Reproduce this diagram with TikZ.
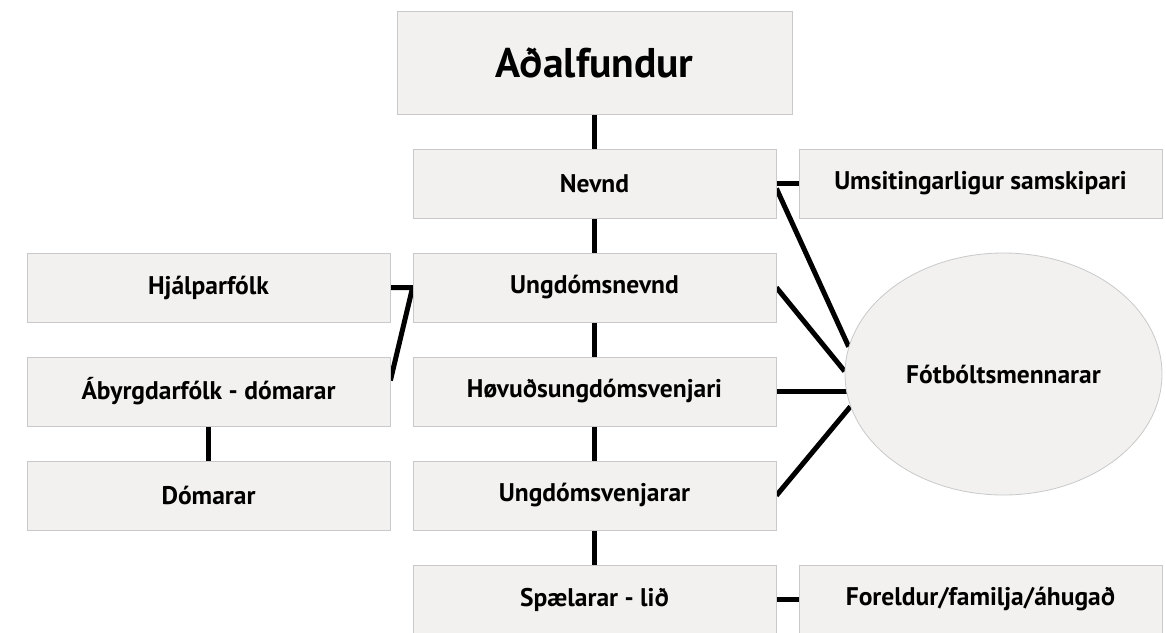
\documentclass[tikz,border=0pt]{standalone}
\usepackage{fontspec}
\setmainfont{PT Sans}
\usetikzlibrary{shapes.geometric,backgrounds}
\definecolor{boxfill}{HTML}{F2F1F0}
\definecolor{boxline}{HTML}{C9C9C9}
\begin{document}
\begin{tikzpicture}[x=1pt,y=-1pt,
  box/.style={draw=boxline, line width=0.8pt, fill=boxfill, minimum width=363pt,
    minimum height=69pt, inner sep=0pt, text=black,
    font=\fontsize{25.5}{30}\selectfont\bfseries},
  bigbox/.style={box, minimum width=395pt, minimum height=103pt,
    font=\fontsize{41.5}{48}\selectfont\bfseries},
  ellbox/.style={box, ellipse, minimum width=317pt, minimum height=242pt},
  link/.style={line width=5pt, draw=black}]
\useasboundingbox (0,0) rectangle (1166,632);
\node[bigbox] (adal)  at (594.5,62.5)  {Aðalfundur};
\node[box] (nevnd)   at (594.5,183.5) {Nevnd};
\node[box] (umsit)   at (980.5,183.5) {Umsitingarligur samskipari};
\node[box] (ungn)    at (594.5,287.5) {Ungdómsnevnd};
\node[box] (hjalp)   at (208.5,287.5) {Hjálparfólk};
\node[box] (abyrg)   at (208.5,391.5) {Ábyrgdarfólk - dómarar};
\node[box] (domarar) at (208.5,495.5) {Dómarar};
\node[box] (hovud)   at (594.5,391.5) {Høvuðsungdómsvenjari};
\node[box] (ungv)    at (594.5,495.5) {Ungdómsvenjarar};
\node[box] (spel)    at (594.5,599.5) {Spælarar - lið};
\node[box] (foreld)  at (980.5,599.5) {Foreldur/familja/áhugað};
\node[ellbox] (fot)  at (1003.5,374)  {Fótbóltsmennarar};
\begin{pgfonlayer}{background}
\draw[link] (adal.south) -- (nevnd.north);
\draw[link] (nevnd.south) -- (ungn.north);
\draw[link] (ungn.south) -- (hovud.north);
\draw[link] (hovud.south) -- (ungv.north);
\draw[link] (ungv.south) -- (spel.north);
\draw[link] (nevnd.east) -- (umsit.west);
\draw[link] (spel.east) -- (foreld.west);
\draw[link] (abyrg.south) -- (domarar.north);
\draw[link] (hjalp.east) -- (ungn.west) -- ([yshift=11pt]abyrg.east);
\draw[link] ([yshift=-5pt]nevnd.east) -- (fot.170);
\draw[link] (ungn.east) -- (fot.179);
\draw[link] (hovud.east) -- (hovud.east -| fot.center);
\draw[link] (ungv.east) -- (fot.192);
\end{pgfonlayer}
\end{tikzpicture}
\end{document}
